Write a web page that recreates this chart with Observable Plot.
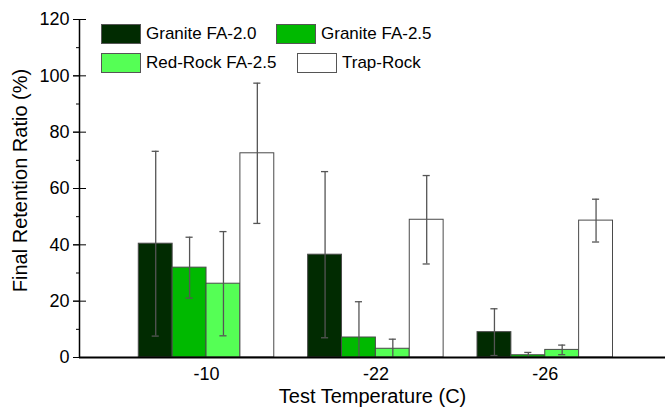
<!DOCTYPE html>
<html>
<head>
<meta charset="utf-8">
<script src="https://cdn.jsdelivr.net/npm/d3@7"></script>
<script src="https://cdn.jsdelivr.net/npm/@observablehq/plot@0.6"></script>
<style>
  html, body { margin: 0; padding: 0; background: #fff; }
  #wrap { position: relative; width: 665px; height: 409px; font-family: "Liberation Sans", Arial, sans-serif; }
  .legend { position: absolute; left: 0; top: 0; font-size: 17px; color: #000; }
  .item { position: absolute; display: flex; align-items: center; height: 20px; white-space: nowrap; }
  .sw { width: 38px; height: 18px; border: 1px solid #555; box-sizing: content-box; margin-right: 5px; flex: none; }
</style>
</head>
<body>
<div id="wrap"></div>
<script>
// ---- data ----
const temps = ["-10", "-22", "-26"];
const seriesNames = ["Granite FA-2.0", "Granite FA-2.5", "Red-Rock FA-2.5", "Trap-Rock"];
const seriesColors = ["#012b01", "#00b900", "#55ff55", "#ffffff"];
const granite20 = [40.4, 36.5, 9.0];
const granite20Err = [32.8, 29.5, 8.3];
const granite25 = [31.9, 7.1, 0.8];
const granite25Err = [10.8, 12.7, 1.0];
const redrock25 = [26.2, 3.1, 2.7];
const redrock25Err = [18.5, 3.4, 1.7];
const trapRock = [72.5, 48.9, 48.6];
const trapRockErr = [24.9, 15.7, 7.6];
const yTicks = [0, 20, 40, 60, 80, 100, 120];
const yMinor = [10, 30, 50, 70, 90, 110];

const values = [granite20, granite25, redrock25, trapRock];
const errs = [granite20Err, granite25Err, redrock25Err, trapRockErr];

const barW = 0.2;
const rows = [];
temps.forEach((t, gi) => {
  seriesNames.forEach((s, si) => {
    const c = gi + 1 + (si - 1.5) * barW;
    rows.push({temp: t, series: s, color: seriesColors[si], x: c, x1: c - barW / 2, x2: c + barW / 2,
      v: values[si][gi], lo: values[si][gi] - errs[si][gi], hi: values[si][gi] + errs[si][gi]});
  });
});
const capHalf = 0.021;

const chart = Plot.plot({
  width: 665,
  height: 409,
  marginLeft: 79,
  marginRight: 0,
  marginTop: 19,
  marginBottom: 52,
  style: {fontFamily: "'Liberation Sans', Arial, sans-serif", fontSize: "18px", background: "#fff", overflow: "visible"},
  x: {type: "linear", domain: [0.25, 3.71], axis: null},
  y: {domain: [0, 120], axis: null},
  marks: [
    Plot.rectY(rows, {x1: "x1", x2: "x2", y1: 0, y2: "v", fill: "color", stroke: "#4a4a4a", strokeWidth: 1}),
    Plot.ruleX(rows, {x: "x", y1: d => Math.max(0, d.lo), y2: "hi", stroke: "#555", strokeWidth: 1.3}),
    Plot.ruleY(rows, {y: "hi", x1: d => d.x - capHalf, x2: d => d.x + capHalf, stroke: "#555", strokeWidth: 1.3}),
    Plot.ruleY(rows.filter(d => d.lo > 0), {y: "lo", x1: d => d.x - capHalf, x2: d => d.x + capHalf, stroke: "#555", strokeWidth: 1.3}),
    Plot.axisY(yTicks, {tickSize: 6, tickPadding: 4, fontSize: 18, label: null, stroke: "#000"}),
    Plot.axisY(yTicks, {tickSize: 13, dx: 7, tickFormat: () => null, label: null, stroke: "#000"}),
    Plot.axisY(yMinor, {tickSize: 3, tickFormat: () => null, label: null, stroke: "#000"}),
    Plot.axisX([1, 2, 3], {tickSize: 0, tickPadding: 10, tickFormat: d => temps[d - 1], fontSize: 18, label: null}),
    Plot.ruleX([0.25], {stroke: "#000", strokeWidth: 1.5}),
    Plot.ruleY([0], {stroke: "#000", strokeWidth: 2}),
    Plot.text(["Test Temperature (C)"], {frameAnchor: "bottom", dy: 31, lineAnchor: "top", fontSize: 20, fill: "#000"}),
    Plot.text(["Final Retention Ratio (%)"], {frameAnchor: "left", dx: -59, dy: -8, rotate: -90, textAnchor: "middle", fontSize: 20, fill: "#000"})
  ]
});

const wrap = document.getElementById("wrap");
wrap.appendChild(chart);

// legend
const legendPos = [
  {left: 101, top: 24},
  {left: 276, top: 24},
  {left: 101, top: 53},
  {left: 297, top: 53}
];
const legend = document.createElement("div");
legend.className = "legend";
seriesNames.forEach((s, i) => {
  const item = document.createElement("div");
  item.className = "item";
  item.style.left = legendPos[i].left + "px";
  item.style.top = legendPos[i].top + "px";
  const sw = document.createElement("span");
  sw.className = "sw";
  sw.style.background = seriesColors[i];
  const label = document.createElement("span");
  label.textContent = s;
  item.appendChild(sw);
  item.appendChild(label);
  legend.appendChild(item);
});
wrap.appendChild(legend);
</script>
</body>
</html>
